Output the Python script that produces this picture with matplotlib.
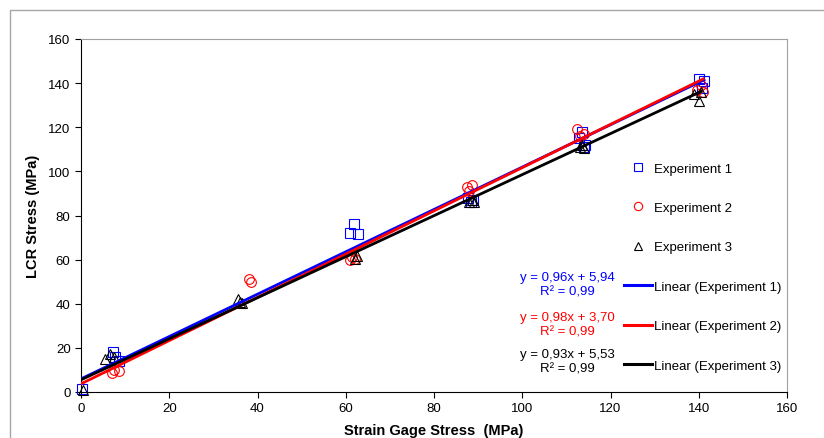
import numpy as np
import matplotlib
matplotlib.use('agg')
from matplotlib import pyplot as plt
from matplotlib.lines import Line2D
from matplotlib.patches import Rectangle

plt.rcParams['font.family'] = ['Liberation Sans', 'DejaVu Sans']

# Experiment 1 (blue squares)
exp1_x = [0.3, 7.2, 7.6, 8.5, 61.0, 61.8, 62.8, 87.8, 88.3, 88.8,
          112.8, 113.5, 114.0, 114.3, 140.0, 140.8, 141.2]
exp1_y = [1.5, 18.0, 16.0, 14.0, 72.0, 76.0, 71.5, 88.0, 86.0, 87.0,
          115.0, 118.0, 111.0, 112.0, 142.0, 138.0, 141.0]

# Experiment 2 (red circles)
exp2_x = [7.0, 7.5, 8.5, 38.0, 38.5, 61.0, 61.5, 62.0, 87.5, 88.0, 88.5,
          112.5, 113.0, 114.0, 139.5, 140.5, 141.0]
exp2_y = [8.5, 10.0, 9.5, 51.0, 50.0, 60.0, 61.0, 60.5, 93.0, 91.0, 94.0,
          119.0, 116.0, 117.0, 137.0, 139.0, 136.0]

# Experiment 3 (black triangles)
exp3_x = [0.5, 5.5, 6.5, 7.5, 35.5, 36.0, 36.5, 62.0, 62.5, 88.0, 88.5, 89.0,
          113.0, 113.5, 114.0, 139.0, 140.0, 140.5]
exp3_y = [1.0, 15.0, 17.0, 16.0, 42.0, 41.0, 40.5, 60.5, 61.5, 86.0, 87.0, 86.0,
          111.0, 112.0, 110.5, 135.0, 132.0, 136.0]

names = ["Experiment 1", "Experiment 2", "Experiment 3"]
colors = ["#0000FF", "#FF0000", "#000000"]
markers = ["s", "o", "^"]
slopes = [0.96, 0.98, 0.93]
intercepts = [5.94, 3.70, 5.53]
eq_texts = ["y = 0,96x + 5,94\nR² = 0,99",
            "y = 0,98x + 3,70\nR² = 0,99",
            "y = 0,93x + 5,53\nR² = 0,99"]

xs_all = [exp1_x, exp2_x, exp3_x]
ys_all = [exp1_y, exp2_y, exp3_y]

fig = plt.figure(figsize=(8.24, 4.39), dpi=100)
fig.patches.append(Rectangle((10 / 824, -0.1), 1.2, 1 - 11 / 439 + 0.1,
                             transform=fig.transFigure, fill=False,
                             edgecolor='#A6A6A6', linewidth=1.0))
ax = fig.add_axes([81 / 824, 1 - 393 / 439, 706 / 824, 353 / 439])

for xs, ys, c, m in zip(xs_all, ys_all, colors, markers):
    ax.plot(xs, ys, linestyle='none', marker=m, markersize=7,
            markerfacecolor='none', markeredgecolor=c, markeredgewidth=0.8,
            clip_on=False, zorder=3)

for xs, a, b, c in zip(xs_all, slopes, intercepts, colors):
    lx = np.array([0, max(xs)])
    ax.plot(lx, a * lx + b, color=c, linewidth=2.0, zorder=4)

ax.set_xlim(0, 160)
ax.set_ylim(0, 160)
ax.set_xticks(np.arange(0, 161, 20))
ax.set_yticks(np.arange(0, 161, 20))
ax.tick_params(labelsize=9.5, direction='out', length=4, width=0.8, colors='black')
for s in ['top', 'right']:
    ax.spines[s].set_color('#A0A0A0')
for s in ['left', 'bottom']:
    ax.spines[s].set_color('black')

ax.set_xlabel("Strain Gage Stress  (MPa)", fontsize=10.5, fontweight='bold', labelpad=6)
ax.set_ylabel("LCR Stress (MPa)", fontsize=10.5, fontweight='bold', labelpad=6)

handles = []
for c, m, n in zip(colors, markers, names):
    handles.append(Line2D([], [], linestyle='none', marker=m, markersize=6,
                          markerfacecolor='none', markeredgecolor=c,
                          markeredgewidth=0.8, label=n))
for c, n in zip(colors, names):
    handles.append(Line2D([], [], color=c, linewidth=2.2, label="Linear (" + n + ")"))
ax.legend(handles=handles, loc='center left', bbox_to_anchor=((624 - 81) / 706, 0.354),
          frameon=False, fontsize=9.5, handlelength=2.1, handletextpad=0.15,
          labelspacing=2.06, borderpad=0, borderaxespad=0)

eq_y = [0.305, 0.192, 0.087]
for t, c, yy in zip(eq_texts, colors, eq_y):
    ax.text((567 - 81) / 706, yy, t, color=c, fontsize=9.5, ha='center',
            va='center', transform=ax.transAxes, linespacing=1.2)

plt.savefig("out.png", dpi=100)
